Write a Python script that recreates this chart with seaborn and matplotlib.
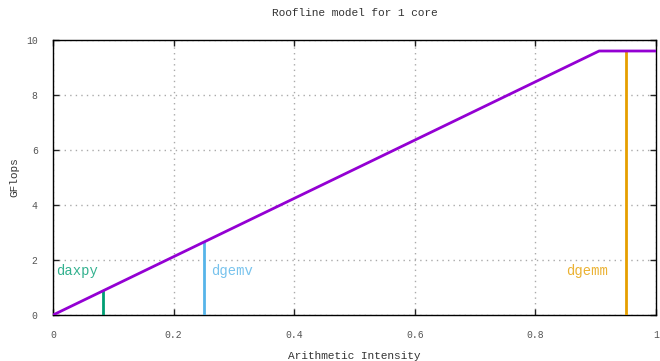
import matplotlib
matplotlib.use("Agg")
import matplotlib.pyplot as plt
import seaborn as sns
import numpy as np
import pandas as pd

# Machine parameters for one core
peak_gflops = 9.6
bandwidth = 10.6  # GB/s

# Kernels: name, arithmetic intensity
kernels = ["daxpy", "dgemv", "dgemm"]
intensities = [1 / 12, 0.25, 0.95]
kernel_colors = ["#009e73", "#56b4e9", "#e69f00"]
label_x = [0.005, 0.262, 0.851]
label_y = [1.6, 1.6, 1.6]

roof_color = "#9400d3"

sns.set_theme(style="white")
plt.rcParams["font.family"] = ["Liberation Mono", "DejaVu Sans Mono"]

fig = plt.figure(figsize=(6.6, 3.61), dpi=100)
ax = fig.add_axes([53 / 660, 46 / 361, 603 / 660, 275 / 361])

# Roofline: memory-bound slope up to the ridge point, then flat peak
ridge = peak_gflops / bandwidth
roof = pd.DataFrame({"x": [0.0, ridge, 1.0],
                     "y": [0.0, peak_gflops, peak_gflops]})
sns.lineplot(data=roof, x="x", y="y", ax=ax, color=roof_color, lw=2,
             estimator=None, sort=False, zorder=4)

for name, ai, col, lx, ly in zip(kernels, intensities, kernel_colors, label_x, label_y):
    attainable = min(bandwidth * ai, peak_gflops)
    seg = pd.DataFrame({"x": [ai, ai], "y": [0.0, attainable]})
    sns.lineplot(data=seg, x="x", y="y", ax=ax, color=col, lw=2,
                 estimator=None, sort=False, zorder=3)
    ax.text(lx, ly, name, color=col, fontsize=10, va="center", ha="left", alpha=0.8)

ax.set_xlim(0, 1)
ax.set_ylim(0, 10)
ax.set_xticks([0, 0.2, 0.4, 0.6, 0.8, 1])
ax.set_xticklabels(["0", "0.2", "0.4", "0.6", "0.8", "1"])
ax.set_yticks([0, 2, 4, 6, 8, 10])
ax.grid(True, color="#aaaaaa", linestyle=(0, (1, 3)), lw=1)
ax.tick_params(direction="in", length=4, width=1, color="#222222",
               top=True, right=True, bottom=True, left=True,
               labelsize=7, labelcolor="#555555", pad=11)
for s in ax.spines.values():
    s.set_color("black")
    s.set_linewidth(1)
    s.set_visible(True)

ax.set_xlabel("Arithmetic Intensity", fontsize=8, color="#333333", labelpad=8)
ax.set_ylabel("GFlops", fontsize=8, color="#333333", labelpad=5)
ax.set_title("Roofline model for 1 core", fontsize=8, color="#333333", pad=17)

fig.savefig("out.png", dpi=100)
